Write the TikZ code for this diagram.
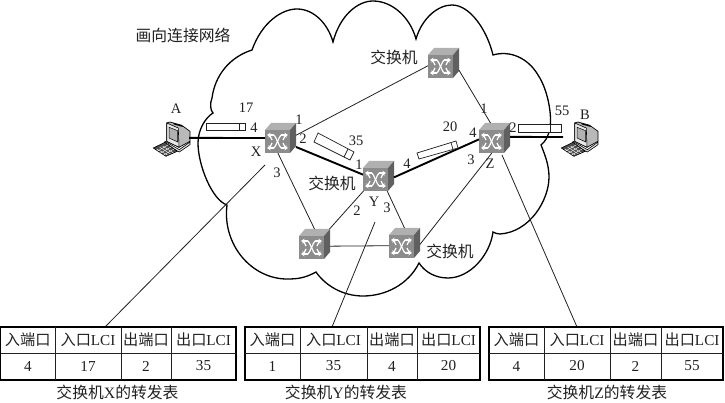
\documentclass[tikz,border=0pt]{standalone}
\usepackage{fontspec}
\setmainfont{Liberation Serif}
\newfontfamily\cjk{Noto Sans CJK SC}
\usetikzlibrary{arrows.meta}
\definecolor{ink}{gray}{0.13}
\tikzset{
  thinlink/.style={draw=ink,line width=0.8pt},
  thicklink/.style={draw=black,line width=1.9pt},
  cloudline/.style={draw=black,line width=1.3pt},
  lab/.style={inner sep=0pt,text=ink,font=\fontsize{14.5}{14.5}\selectfont},
  zhlab/.style={inner sep=0pt,text=ink,font=\fontsize{15.8}{15.8}\selectfont},
  hdr/.style={inner sep=0pt,text=ink,font=\fontsize{15.2}{15.2}\selectfont},
  bbox/.style={inner sep=0pt,outer sep=0pt,minimum width=31pt,minimum height=30pt},
  pcbox/.style={inner sep=0pt,outer sep=0pt,minimum width=34pt,minimum height=36pt},
  packet/.style={draw=ink,line width=0.7pt,fill=white},
  tablebox/.style={draw=black,line width=1.2pt},
  tableline/.style={draw=ink,line width=0.7pt},
  swarrow/.style={white,line width=1.2pt,-{Stealth[length=3.5pt,width=4.5pt]}},
  swline/.style={white,line width=1.2pt}
}
\newcommand{\zh}[1]{{\cjk #1}}
% switch: name, left x of front, top y of whole box
\newcommand{\netswitch}[3]{%
  \node[bbox] (#1) at (#2+15.5,#3+15) {};
  \begin{scope}[shift={(#2,#3)}]
    \fill[gray!62] (0,7)--(6,0)--(31,0)--(25,7)--cycle;
    \fill[gray!75!black] (25,7)--(31,0)--(31,23)--(25,30)--cycle;
    \fill[gray!90] (0,7) rectangle (25,30);
    \draw[swarrow] (9,12)--(2,12);
    \draw[swarrow] (16,12)--(23,12);
    \draw[swarrow] (9,25)--(2,25);
    \draw[swarrow] (16,25)--(23,25);
    \draw[swline] (9,12)..controls (11,14) and (14,23)..(16,25);
    \draw[swline] (16,12)..controls (14,14) and (11,23)..(9,25);
    \draw[swarrow] (7,17)--(4,11);
    \draw[swarrow] (18,17)--(21,11);
    \draw[swarrow] (7,20)--(4,26);
    \draw[swarrow] (18,20)--(21,26);
  \end{scope}}
% computer: name, left x, top y
\newcommand{\computer}[3]{%
  \node[pcbox] (#1) at (#2+17,#3+18) {};
  \begin{scope}[shift={(#2,#3)}]
    \filldraw[fill=gray!55,draw=black,line width=0.7pt] (15,0)--(26.7,3.3)--(35,9.3)--(35,19.3)--(24,25.3)--(11.7,19.3)--(11.7,1)--cycle;
    \filldraw[fill=gray!18,draw=black,line width=0.6pt] (11.7,1)--(23.3,6)--(24,25.3)--(11.7,19.3)--cycle;
    \fill[black] (18,1)--(26.7,3.3)--(28,5)--(19,2.5)--cycle;
    \filldraw[fill=gray!60,draw=black,line width=0.5pt] (14,5.3)--(22.7,8.7)--(22.7,20)--(14,16)--cycle;
    \filldraw[fill=gray!25,draw=black,line width=0.6pt] (10,19.3)--(24.3,27.7)--(35,20)--(35,22.7)--(24.3,30)--(10,22)--cycle;
    \filldraw[fill=black!70,draw=black,line width=0.6pt] (-1.7,26)--(10,20.3)--(22.3,29.3)--(11,34.3)--cycle;
    \draw[white,line width=0.4pt] (1.5,27)--(12.5,33) (4.5,25)--(15.5,32) (7.5,24)--(18.5,31);
    \draw[white,line width=0.4pt] (2.5,29)--(13,23) (5.5,31)--(16,25) (8.5,33)--(19,27);
  \end{scope}}
% table: name, x0..x4, four values
\newcommand{\fwdtable}[9]{%
  \node[tablebox,inner sep=0pt,outer sep=0pt,minimum width=#5pt-#1pt,minimum height=53pt] (tab#1) at ({(#1+#5)/2},353.5) {};
  \draw[tableline] (#1,353)--(#5,353) (#2,327)--(#2,380) (#3,327)--(#3,380) (#4,327)--(#4,380);
  \node[hdr] (a#1) at ({(#1+#2)/2},340) {\zh{入端口}};
  \node[hdr] (b#1) at ({(#2+#3)/2},340) {\zh{入口}LCI};
  \node[hdr] (c#1) at ({(#3+#4)/2},340) {\zh{出端口}};
  \node[hdr] (d#1) at ({(#4+#5)/2},340) {\zh{出口}LCI};
  \node[hdr] (e#1) at ({(#1+#2)/2},366) {#6};
  \node[hdr] (f#1) at ({(#2+#3)/2},366) {#7};
  \node[hdr] (g#1) at ({(#3+#4)/2},366) {#8};
  \node[hdr] (h#1) at ({(#4+#5)/2},366) {#9};
}
\begin{document}
\begin{tikzpicture}[x=1pt,y=-1pt]
\useasboundingbox (0,0) rectangle (725,403);
% cloud
\draw[cloudline]
 (252,50) .. controls (262,22) and (282,9) .. (297,9)
 .. controls (314,9) and (328,24) .. (333,42)
 .. controls (340,15) and (358,1) .. (373,1)
 .. controls (392,1) and (410,17) .. (416,39)
 .. controls (422,18) and (438,5) .. (452,5)
 .. controls (470,5) and (487,30) .. (493,55)
 .. controls (510,50) and (528,58) .. (538,75)
 .. controls (548,90) and (552,115) .. (550,127)
 .. controls (549,135) and (546,141) .. (541,145)
 .. controls (545,155) and (549,165) .. (549,177)
 .. controls (549,200) and (530,232) .. (500,234)
 .. controls (497,234) and (495,233) .. (493,232)
 .. controls (490,255) and (470,278) .. (448,278)
 .. controls (435,278) and (425,272) .. (419,263)
 .. controls (408,285) and (385,296) .. (363,296)
 .. controls (342,296) and (325,285) .. (316,272)
 .. controls (305,278) and (298,279) .. (287,279)
 .. controls (252,279) and (222,245) .. (227,205)
 .. controls (212,200) and (198,165) .. (198,143)
 .. controls (198,130) and (205,118) .. (213,113)
 .. controls (210,110) and (210,103) .. (212,98)
 .. controls (215,75) and (230,57) .. (252,50) -- cycle;
% switches and hosts
\netswitch{X}{265}{123}
\netswitch{T}{428}{48}
\netswitch{Y}{363}{161}
\netswitch{Z}{479}{123}
\netswitch{L}{299}{229}
\netswitch{R}{389}{228}
\computer{A}{155}{122}
\computer{B}{563}{122}
% links
\draw[thicklink] (A.7) -- (X.west);
\draw[thicklink] (X.-30) -- (Y.175);
\draw[thicklink] (Y.-5) -- (Z.185);
\draw[thicklink] (Z.4) -- (B.170);
\draw[thinlink] (X.10) -- (T.190);
\draw[thinlink] (T.-25) -- (Z.105);
\draw[thinlink] (X.-100) -- (L.north);
\draw[thinlink] (Y.-135) -- (L.45);
\draw[thinlink] (Y.-60) -- (R.north);
\draw[thinlink] (L.-8) -- (R.-170);
\draw[thinlink] (R.-5) -- (Z.-100);
\coordinate (lxs) at (265,165);
\coordinate (lys) at (375,222);
\coordinate (lzs) at (502,155);
\coordinate (lxe) at (105,327);
\coordinate (lye) at (332,327);
\coordinate (lze) at (577,327);
\draw[thinlink] (lxs) -- (lxe);
\draw[thinlink] (lys) -- (lye);
\draw[thinlink] (lzs) -- (lze);
% packets
\draw[packet] (206,123) rectangle (245,130); \draw[packet] (239,123) -- (239,130);
\draw[packet] (318,133) -- (354,152) -- (350,160) -- (314,142) -- cycle; \draw[packet] (348,149) -- (344,157);
\draw[packet] (417,153) -- (456,141) -- (458,148) -- (419,159) -- cycle; \draw[packet] (451,142.5) -- (453,149.5);
\draw[packet] (518,124) rectangle (561,132); \draw[packet] (550,124) -- (550,132);
% labels
\node[zhlab] (l01) at (183,35) {\zh{画向连接网络}};
\node[lab] (l02) at (176,109) {A};
\node[lab] (l03) at (246,108) {17};
\node[lab] (l04) at (254,128) {4};
\node[lab] (l05) at (299,120) {1};
\node[lab] (l06) at (303,139) {2};
\node[lab] (l07) at (356,141) {35};
\node[lab] (l08) at (359,165) {1};
\node[lab] (l09) at (256,152) {X};
\node[lab] (l10) at (277,173) {3};
\node[zhlab] (l11) at (332,183) {\zh{交换机}};
\node[zhlab] (l12) at (394,57) {\zh{交换机}};
\node[lab] (l13) at (484,109) {1};
\node[lab] (l14) at (562,111) {55};
\node[lab] (l15) at (585,115) {B};
\node[lab] (l16) at (513,128) {2};
\node[lab] (l17) at (450,127) {20};
\node[lab] (l18) at (473,133) {4};
\node[lab] (l19) at (471,160) {3};
\node[lab] (l20) at (490,164) {Z};
\node[lab] (l21) at (407,164) {4};
\node[lab] (l22) at (357,211) {2};
\node[lab] (l23) at (374,202) {Y};
\node[lab] (l24) at (387,208) {3};
\node[zhlab] (l25) at (450,251) {\zh{交换机}};
% tables
\fwdtable{0.6}{55}{121}{171}{236}{4}{17}{2}{35}
\fwdtable{245}{300}{367}{417}{480}{1}{35}{4}{20}
\fwdtable{489}{544}{610}{661}{723}{4}{20}{2}{55}
\node[zhlab] (cx) at (117.5,392) {\zh{交换机}X\zh{的转发表}};
\node[zhlab] (cy) at (346,392) {\zh{交换机}Y\zh{的转发表}};
\node[zhlab] (cz) at (607,392) {\zh{交换机}Z\zh{的转发表}};
\end{tikzpicture}
\end{document}
